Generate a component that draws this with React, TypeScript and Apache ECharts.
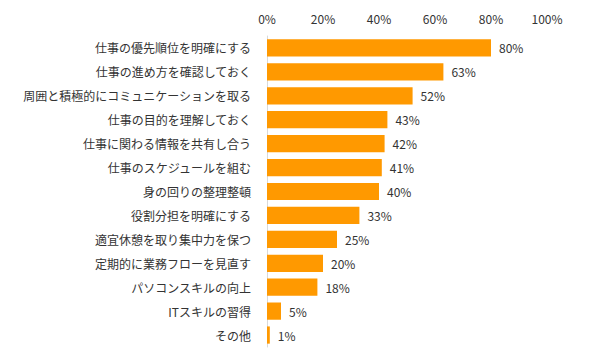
import React, { useEffect, useRef } from "react";
import * as echarts from "echarts";

const categories = [
  "仕事の優先順位を明確にする",
  "仕事の進め方を確認しておく",
  "周囲と積極的にコミュニケーションを取る",
  "仕事の目的を理解しておく",
  "仕事に関わる情報を共有し合う",
  "仕事のスケジュールを組む",
  "身の回りの整理整頓",
  "役割分担を明確にする",
  "適宜休憩を取り集中力を保つ",
  "定期的に業務フローを見直す",
  "パソコンスキルの向上",
  "ITスキルの習得",
  "その他",
];
const values = [80, 63, 52, 43, 42, 41, 40, 33, 25, 20, 18, 5, 1];
const tickValues = [0, 20, 40, 60, 80, 100];

const FONT = "'Noto Sans CJK JP', 'Noto Sans', sans-serif";

export default function App() {
  const ref = useRef<HTMLDivElement>(null);
  useEffect(() => {
    document.body.style.margin = "0";
    if (!ref.current) return;
    const chart = echarts.init(ref.current, null, { renderer: "svg" });
    chart.setOption({
      animation: false,
      backgroundColor: "#ffffff",
      grid: { left: 267, right: 61, top: 36, bottom: 13, containLabel: false },
      xAxis: {
        type: "value",
        position: "top",
        min: tickValues[0],
        max: tickValues[tickValues.length - 1],
        interval: 20,
        axisLine: { show: false },
        axisTick: { show: false },
        splitLine: { show: false },
        axisLabel: {
          formatter: "{value}%",
          color: "#333",
          fontSize: 12,
          fontFamily: FONT,
          margin: 12,
        },
      },
      yAxis: {
        type: "category",
        inverse: true,
        data: categories,
        axisLine: { show: true, lineStyle: { color: "#d9d9d9", width: 1 } },
        axisTick: { show: false },
        axisLabel: {
          color: "#333",
          fontSize: 12,
          fontFamily: FONT,
          margin: 16,
        },
      },
      series: [
        {
          type: "bar",
          data: values,
          barCategoryGap: "28%",
          itemStyle: { color: "#FF9900" },
          label: {
            show: true,
            position: "right",
            distance: 8,
            formatter: "{c}%",
            color: "#333",
            fontSize: 12,
            fontFamily: FONT,
          },
        },
      ],
    });
    return () => chart.dispose();
  }, []);
  return <div ref={ref} style={{ width: 608, height: 360 }} />;
}
